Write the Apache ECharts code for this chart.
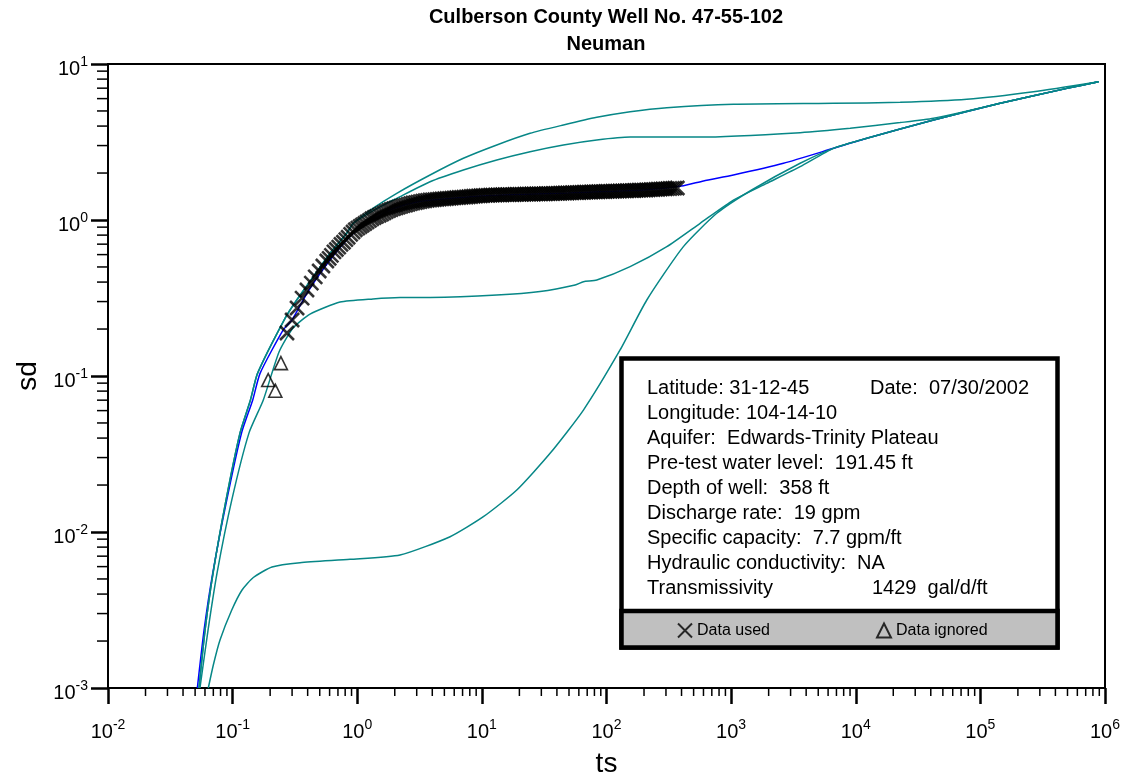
<!DOCTYPE html>
<html>
<head>
<meta charset="utf-8">
<script src="https://cdn.jsdelivr.net/npm/echarts@6/dist/echarts.min.js"></script>
<style>
  html, body { margin: 0; padding: 0; background: #fff; }
  #chart { width: 1125px; height: 776px; }
</style>
</head>
<body>
<div id="chart"></div>
<script>
// type curves, [ts, sd]
const curveTop = [[0.0537,0.001],[0.0601,0.00235],[0.0696,0.00543],[0.0885,0.016],[0.1147,0.0432],[0.139,0.0702],[0.1584,0.104],[0.2633,0.2344],[0.3269,0.3069],[0.4443,0.4335],[0.6049,0.6124],[0.8236,0.8222],[0.9304,0.9531],[1.4,1.217],[2.075,1.483],[3.839,1.943],[7.104,2.486],[13.17,3.027],[24.37,3.596],[45.1,4.064],[83.6,4.55],[154.7,4.945],[304.8,5.25],[1043,5.52],[6622,5.6],[22700,5.68],[77900,5.94],[266700,6.64],[887000,7.7]];
const curveSecond = [[0.0537,0.001],[0.0601,0.00235],[0.0696,0.00543],[0.0885,0.016],[0.1147,0.0432],[0.139,0.0702],[0.1584,0.104],[0.2633,0.2344],[0.3269,0.3069],[0.4443,0.4335],[0.6049,0.6124],[0.8236,0.8222],[0.9304,0.9531],[1.4,1.171],[2.075,1.377],[3.839,1.76],[7.104,2.092],[13.17,2.426],[24.37,2.741],[45.1,3.027],[83.6,3.258],[154.7,3.4],[564,3.4],[3580,3.63],[9020,3.87],[22700,4.21],[42060,4.49],[144200,5.6],[494300,6.98],[887000,7.7]];
const curveMiddle = [[0.0547,0.001],[0.0635,0.00235],[0.0749,0.00543],[0.0984,0.016],[0.1354,0.0432],[0.1763,0.0702],[0.2357,0.1425],[0.3054,0.203],[0.418,0.2494],[0.7278,0.2978],[1.339,0.312],[2.205,0.3186],[3.839,0.3189],[13.17,0.3304],[29.3,0.348],[56,0.383],[65.3,0.4022],[83.6,0.412],[154.7,0.502],[304.8,0.675],[564,0.953],[1043,1.343],[1934,1.718],[3580,2.196],[6622,2.88],[12270,3.34],[42060,4.38],[144200,5.6],[494300,6.98],[887000,7.7]];
const curveLow = [[0.0638,0.001],[0.07,0.001404],[0.0792,0.00203],[0.0984,0.00316],[0.119,0.00425],[0.1466,0.00511],[0.207,0.00597],[0.3475,0.00636],[0.8755,0.00668],[2.205,0.00712],[5.557,0.00933],[10.28,0.01253],[19.06,0.01858],[35.27,0.03195],[65.3,0.0605],[128.5,0.1468],[210.6,0.307],[414,0.675],[767.5,1.104],[1463,1.557],[3580,2.31],[6622,2.88],[12270,3.34],[42060,4.38],[144200,5.6],[494300,6.98],[887000,7.7]];
const curveFit = [[0.0521,0.001],[0.059,0.00235],[0.0692,0.00543],[0.0897,0.016],[0.118,0.0432],[0.145,0.0702],[0.166,0.104],[0.254,0.197],[0.3,0.229],[0.4,0.345],[0.5,0.451],[0.7,0.643],[1,0.863],[1.5,1.062],[2,1.194],[3,1.304],[5,1.363],[10,1.425],[20,1.457],[50,1.49],[100,1.523],[200,1.557],[400,1.65],[600,1.78],[1043,1.943],[2630,2.31],[6622,2.88],[12270,3.34],[42060,4.38],[144200,5.6],[494300,6.98],[887000,7.7]];

// observations
const dataUsed = [[0.273,0.1886],[0.3,0.2286],[0.329,0.273],[0.361,0.316],[0.395,0.356],[0.428,0.394],[0.46,0.4315],[0.495,0.471],[0.53,0.507],
  [0.57,0.546],[0.595,0.568],[0.62,0.593],[0.65,0.624],[0.68,0.647],[0.71,0.67],[0.74,0.697],[0.775,0.72],[0.81,0.748],[0.845,0.775],[0.885,0.809],[0.925,0.838],[0.965,0.866],
  [1.01,0.888],[1.055,0.909],[1.1,0.929],[1.15,0.95],[1.2,0.973],[1.255,0.995],[1.31,1.018],[1.37,1.038],[1.43,1.055],[1.5,1.072],[1.57,1.091],[1.64,1.11],[1.71,1.131],[1.79,1.15],[1.87,1.167],[1.96,1.183],
  [2.05,1.196],[2.14,1.208],[2.24,1.222],[2.34,1.235],[2.45,1.246],[2.56,1.258],[2.68,1.272],[2.8,1.285],[2.93,1.293],[3.06,1.302],[3.2,1.311],[3.35,1.321],[3.5,1.329],[3.66,1.336],[3.83,1.343],
  [4,1.347],[4.18,1.352],[4.37,1.357],[4.57,1.361],[4.78,1.365],[5,1.369],[5.23,1.373],[5.47,1.377],[5.72,1.382],[5.98,1.386],[6.25,1.39],[6.54,1.393],[6.84,1.397],[7.15,1.401],[7.48,1.405],[7.82,1.41],
  [8.18,1.415],[8.55,1.419],[8.94,1.423],[9.35,1.427],[9.78,1.431],[10.2,1.434],[10.7,1.437],[11.2,1.44],[11.7,1.442],[12.2,1.444],[12.8,1.446],[13.4,1.448],[14,1.45],[14.6,1.452],[15.3,1.453],
  [16,1.454],[16.7,1.455],[17.5,1.456],[18.3,1.457],[19.1,1.459],[20,1.46],[20.9,1.461],[21.9,1.463],[22.9,1.464],[23.9,1.466],[25,1.468],[26.1,1.468],[27.3,1.469],[28.5,1.47],[29.8,1.471],
  [31.2,1.472],[32.6,1.474],[34.1,1.476],[35.6,1.477],[37.2,1.479],[38.9,1.481],[40.7,1.483],[42.5,1.485],[44.4,1.487],[46.4,1.489],[48.5,1.49],[50.7,1.492],[53,1.495],[55.4,1.497],[57.9,1.499],
  [60.5,1.501],[63.2,1.504],[66,1.506],[69,1.508],[72.1,1.51],[75.3,1.512],[78.7,1.514],[82.2,1.516],[85.9,1.518],[89.8,1.52],[93.8,1.521],[98,1.523],[102,1.524],[107,1.526],[112,1.528],
  [117,1.53],[122,1.532],[128,1.534],[134,1.536],[140,1.538],[146,1.54],[153,1.542],[160,1.544],[167,1.546],[174,1.548],[182,1.551],[190,1.553],[199,1.556],[208,1.558],[217,1.561],
  [227,1.565],[237,1.567],[248,1.571],[259,1.575],[271,1.579],[283,1.582],[296,1.585],[309,1.588],[323,1.592],[338,1.595],[353,1.6],[370,1.604]];
const dataIgnored = [[0.244,0.121],[0.193,0.0942],[0.22,0.0805]];

// axes
const xDecades = [-2, -1, 0, 1, 2, 3, 4, 5, 6];
const yDecades = [-3, -2, -1, 0, 1];
const minorSteps = [2, 3, 4, 5, 6, 7, 8, 9];

// info box text
const infoRows = ['Latitude: 31-12-45', 'Longitude: 104-14-10', 'Aquifer:  Edwards-Trinity Plateau',
  'Pre-test water level:  191.45 ft', 'Depth of well:  358 ft', 'Discharge rate:  19 gpm',
  'Specific capacity:  7.7 gpm/ft', 'Hydraulic conductivity:  NA', 'Transmissivity'];
const infoDate = 'Date:  07/30/2002';
const infoTrans = '1429  gal/d/ft';

const FONT = '"Liberation Sans", Arial, sans-serif';
const X_ICON = 'path://M0,0L12,12M12,0L0,12';
const xMin = Math.pow(10, xDecades[0]), xMax = Math.pow(10, xDecades[xDecades.length - 1]);
const yMin = Math.pow(10, yDecades[0]), yMax = Math.pow(10, yDecades[yDecades.length - 1]);

function minors(decades) {
  const out = [];
  decades.slice(0, -1).forEach(function (d) {
    minorSteps.forEach(function (m) { out.push(m * Math.pow(10, d)); });
  });
  return out;
}

function powLabel(v) {
  return '{b|10}{e|' + Math.round(Math.log10(v)) + '}';
}
const labelRich = {
  b: { fontSize: 20, fontFamily: FONT, color: '#000', lineHeight: 30, verticalAlign: 'bottom' },
  e: { fontSize: 14, fontFamily: FONT, color: '#000', lineHeight: 13, verticalAlign: 'bottom', padding: [0, 0, 10, 0] }
};

function tickSeries(values, isX) {
  return {
    type: 'custom',
    silent: true,
    clip: false,
    z: 5,
    data: values.map(function (v) { return isX ? [v, yMin] : [xMin, v]; }),
    renderItem: function (params, api) {
      const p = api.coord([api.value(0), api.value(1)]);
      const shape = isX
        ? { x1: p[0], y1: p[1], x2: p[0], y2: p[1] + 8 }
        : { x1: p[0] - 11, y1: p[1], x2: p[0], y2: p[1] };
      return { type: 'line', shape: shape, style: { stroke: '#000', lineWidth: 1.5 } };
    }
  };
}

function curve(data, color) {
  return {
    type: 'line', data: data, symbol: 'none', smooth: 0.2,
    lineStyle: { color: color, width: 1.5 }, silent: true
  };
}

const chart = echarts.init(document.getElementById('chart'));

const textEls = infoRows.map(function (t, i) {
  return { type: 'text', z: 12, x: 647, y: 388 + 25 * i,
    style: { text: t, fontSize: 20, fontFamily: FONT, fill: '#000', verticalAlign: 'middle' } };
});
textEls.push({ type: 'text', z: 12, x: 870, y: 388,
  style: { text: infoDate, fontSize: 20, fontFamily: FONT, fill: '#000', verticalAlign: 'middle' } });
textEls.push({ type: 'text', z: 12, x: 872, y: 388 + 25 * 8,
  style: { text: infoTrans, fontSize: 20, fontFamily: FONT, fill: '#000', verticalAlign: 'middle' } });

const legendBase = {
  z: 20, top: 622.5, padding: 0, itemWidth: 14, itemHeight: 14, selectedMode: false,
  textStyle: { fontSize: 16, fontFamily: FONT, color: '#000' }
};

chart.setOption({
  animation: false,
  backgroundColor: '#fff',
  title: {
    text: 'Culberson County Well No. 47-55-102\nNeuman',
    left: 606, top: 4, padding: 0, textAlign: 'center',
    textStyle: { fontSize: 20, fontWeight: 'bold', fontFamily: FONT, color: '#000', lineHeight: 27 }
  },
  grid: {
    left: 108, right: 20, top: 64, bottom: 88, show: true, borderColor: '#000', borderWidth: 2,
    containLabel: false, outerBoundsMode: 'none'
  },
  legend: [
    Object.assign({}, legendBase, { left: 677, data: [{ name: 'Data used', icon: X_ICON }] }),
    Object.assign({}, legendBase, { left: 876, data: [{ name: 'Data ignored', icon: 'triangle' }] })
  ],
  xAxis: {
    type: 'log', logBase: 10, min: xMin, max: xMax,
    name: 'ts', nameLocation: 'middle', nameGap: 62,
    nameTextStyle: { fontSize: 28, fontFamily: FONT, color: '#000' },
    axisLine: { onZero: false, lineStyle: { color: '#000', width: 2 } },
    axisTick: { inside: false, length: 16, lineStyle: { color: '#000', width: 2.5 } },
    splitLine: { show: false },
    axisLabel: { margin: 24, formatter: powLabel, rich: labelRich }
  },
  yAxis: {
    type: 'log', logBase: 10, min: yMin, max: yMax,
    name: 'sd', nameLocation: 'middle', nameGap: 63, nameRotate: 90,
    nameTextStyle: { fontSize: 28, fontFamily: FONT, color: '#000' },
    axisLine: { onZero: false, lineStyle: { color: '#000', width: 2 } },
    axisTick: { inside: false, length: 17, lineStyle: { color: '#000', width: 2.5 } },
    splitLine: { show: false },
    axisLabel: { margin: 20, formatter: powLabel, rich: labelRich }
  },
  graphic: {
    elements: [
      { type: 'rect', z: 10, shape: { x: 621.5, y: 358.5, width: 436, height: 289 },
        style: { fill: '#fff', stroke: '#000', lineWidth: 4.5 } },
      { type: 'rect', z: 11, shape: { x: 621.5, y: 611, width: 436, height: 36.5 },
        style: { fill: '#c0c0c0', stroke: '#000', lineWidth: 4.5 } }
    ].concat(textEls)
  },
  series: [
    curve(curveFit, '#0000ff'),
    curve(curveTop, '#078787'),
    curve(curveSecond, '#078787'),
    curve(curveMiddle, '#078787'),
    curve(curveLow, '#078787'),
    {
      name: 'Data used', type: 'scatter', data: dataUsed, symbol: X_ICON, symbolSize: 14, z: 3,
      itemStyle: { color: 'transparent', borderColor: '#000', borderWidth: 2.6 }
    },
    {
      name: 'Data ignored', type: 'scatter', data: dataIgnored, symbol: 'triangle', symbolSize: 13, z: 3,
      itemStyle: { color: 'transparent', borderColor: '#000', borderWidth: 1.6 }
    },
    tickSeries(minors(xDecades), true),
    tickSeries(minors(yDecades), false)
  ]
});
</script>
</body>
</html>
